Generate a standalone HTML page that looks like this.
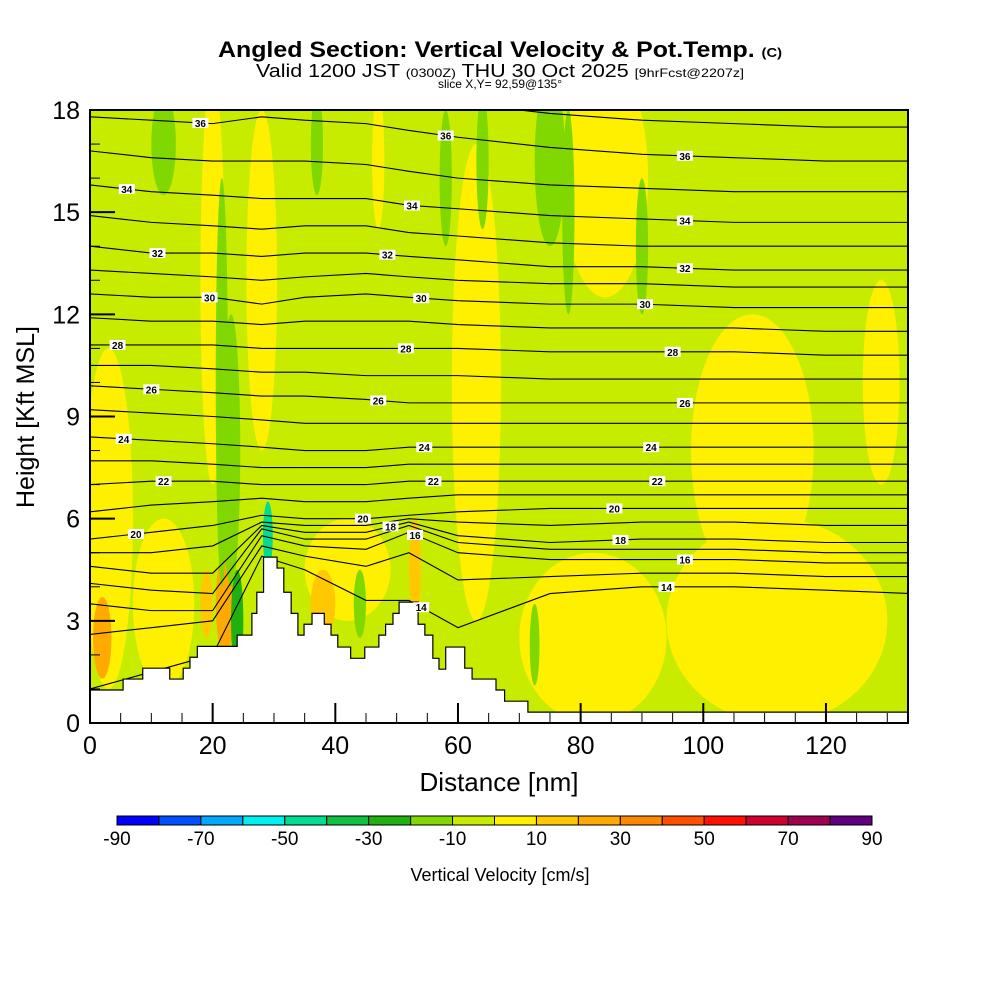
<!DOCTYPE html>
<html><head><meta charset="utf-8"><style>
body{margin:0;background:#fff;}
svg text{font-family:"Liberation Sans",sans-serif;}
</style></head><body>
<svg id="chart" width="1000" height="1000" viewBox="0 0 1000 1000" xmlns="http://www.w3.org/2000/svg">
<defs><clipPath id="plotclip"><rect x="90" y="110" width="818" height="613"/></clipPath></defs>
<text x="218" y="57" font-size="22" font-weight="bold" textLength="564" lengthAdjust="spacingAndGlyphs">Angled Section: Vertical Velocity &amp; Pot.Temp. <tspan font-size="13">(C)</tspan></text>
<text x="256" y="77" font-size="18" textLength="488" lengthAdjust="spacingAndGlyphs">Valid 1200 JST <tspan font-size="12">(0300Z)</tspan> THU 30 Oct 2025 <tspan font-size="12">[9hrFcst@2207z]</tspan></text>
<text x="500" y="88" font-size="12" text-anchor="middle">slice X,Y= 92,59@135°</text>
<g id="plot" clip-path="url(#plotclip)">
<rect x="90" y="110" width="818" height="613" fill="#c8ec00"/>
<g id="blobs"></g><g id="lines"></g><g id="terrain"></g>
</g>
<rect x="90" y="110" width="818" height="613" fill="none" stroke="#000" stroke-width="2"/>
<g id="labels"></g>
<g id="axes"></g>
<text x="499" y="791" font-size="26" text-anchor="middle">Distance [nm]</text>
<text transform="translate(34,417) rotate(-90)" font-size="25" text-anchor="middle">Height [Kft MSL]</text>
<g id="colorbar"></g>
<text x="500" y="881" font-size="18" text-anchor="middle">Vertical Velocity [cm/s]</text>
</svg>
<script>
const xTicks=[0,20,40,60,80,100,120];
const yTicks=[0,3,6,9,12,15,18];
const cbTicks=[-90,-70,-50,-30,-10,10,30,50,70,90];
const cbColors=["#0000ff","#0050ff","#00a8ff","#00f0f0","#00dc90","#10c040","#20b010","#80d800","#c8ec00","#fff000","#ffc800","#ffaa00","#ff8800","#ff5000","#ff1000","#d00030","#a00050","#600080"];
// terrain step edges (nm) and heights (kft)
const terrX=[0,5.4,8.6,13.0,15.2,16.3,17.5,24.0,26.4,27.2,28.3,30.5,31.6,32.8,33.9,34.9,36.2,38.2,39.3,40.4,42.5,44.8,47.1,48.2,49.4,50.4,53.5,54.6,55.9,56.9,58.0,61.1,62.3,66.2,67.6,71.4,134];
const terrH=[0.97,1.29,1.61,1.29,1.61,1.93,2.25,2.58,3.22,3.84,4.87,4.55,3.84,3.22,2.58,2.9,3.22,2.9,2.58,2.23,1.9,2.23,2.58,2.9,3.22,3.55,2.9,2.58,1.9,1.58,2.23,1.61,1.29,0.97,0.64,0.32];
// velocity blobs: centre nm, centre kft, radius nm, radius kft, value cm/s
const blobCx=[3,20,28,63,84,108,112,82,42,129,12,2,22,19,38,53,21.5,75,64,12,72.5,44,24,29,23,37,58,90,78,47];
const blobCy=[6,13,13,10,16,8,3,2.5,4.5,10,3.5,2.5,3.5,3.5,3.5,4.5,10,16.5,16.5,17,2.3,3.5,3,5.5,8,17,16,14,15,16.5];
const blobRx=[4,2,2.5,4,7,10,18,12,7,3,5,1.5,1.5,1,2,1,1,2.5,1,2,0.8,1,1,0.8,1.5,1,1,1,1,1];
const blobRy=[5,6,5,7,3.5,4,3,2.5,1.5,3,2.5,1.2,1.5,1,1,1.5,6,2.5,2,1.5,1.2,1,1.5,1,4,1.5,2,2,3,2];
const blobV=[5,5,5,5,5,5,5,5,5,5,5,25,25,15,15,15,-15,-15,-15,-15,-15,-15,-25,-45,-15,-15,-15,-15,-15,5];
// potential temperature isentropes
const thX=[0,10,20,28,35,45,52,60,75,90,105,120,134];
const thLevels=[14,15,16,17,18,19,20,21,22,23,24,25,26,27,28,29,30,31,32,33,34,35,36,37];
const thH=[
[1.0,1.5,2.0,4.9,4.5,3.6,3.6,2.8,3.8,4.0,4.0,3.9,3.8],
[2.6,2.8,3.0,5.2,4.9,4.6,5.0,4.2,4.3,4.4,4.4,4.3,4.3],
[3.5,3.3,3.3,5.5,5.2,5.1,5.6,5.0,4.8,4.8,4.8,4.7,4.7],
[4.1,3.9,3.8,5.7,5.4,5.4,5.8,5.3,5.1,5.1,5.1,5.0,5.0],
[4.6,4.4,4.4,5.8,5.6,5.6,5.9,5.5,5.3,5.4,5.4,5.3,5.3],
[5.0,5.0,5.2,5.9,5.8,5.8,6.0,5.9,5.8,5.9,5.9,5.8,5.8],
[5.4,5.6,5.8,6.1,6.0,6.0,6.1,6.2,6.3,6.3,6.3,6.3,6.3],
[6.2,6.4,6.5,6.6,6.5,6.5,6.6,6.7,6.7,6.7,6.7,6.7,6.7],
[7.0,7.1,7.1,7.0,7.0,7.0,7.1,7.1,7.1,7.1,7.1,7.1,7.1],
[7.7,7.7,7.6,7.5,7.5,7.5,7.6,7.6,7.6,7.6,7.6,7.6,7.6],
[8.4,8.3,8.2,8.1,8.0,8.0,8.1,8.1,8.1,8.1,8.1,8.1,8.1],
[9.2,9.1,9.0,8.9,8.8,8.8,8.8,8.8,8.8,8.8,8.8,8.8,8.8],
[9.9,9.8,9.7,9.6,9.6,9.5,9.4,9.4,9.4,9.4,9.4,9.4,9.4],
[10.5,10.5,10.4,10.3,10.3,10.2,10.2,10.2,10.1,10.1,10.1,10.1,10.1],
[11.1,11.1,11.1,11.0,11.0,11.0,11.0,11.0,10.9,10.9,10.9,10.8,10.8],
[11.9,11.8,11.8,11.7,11.8,11.8,11.8,11.7,11.6,11.6,11.6,11.5,11.5],
[12.6,12.5,12.5,12.3,12.5,12.6,12.5,12.4,12.3,12.3,12.2,12.2,12.2],
[13.3,13.2,13.1,13.0,13.1,13.2,13.1,13.0,12.9,12.9,12.8,12.8,12.8],
[14.0,13.8,13.8,13.7,13.8,13.8,13.7,13.6,13.4,13.4,13.3,13.3,13.3],
[14.9,14.7,14.6,14.5,14.6,14.6,14.4,14.3,14.1,14.0,14.0,14.0,14.0],
[15.8,15.6,15.5,15.4,15.4,15.4,15.2,15.1,14.9,14.8,14.7,14.7,14.7],
[16.8,16.6,16.5,16.5,16.5,16.4,16.2,16.0,15.8,15.7,15.6,15.6,15.6],
[17.8,17.7,17.6,17.8,17.7,17.6,17.4,17.2,16.9,16.7,16.6,16.5,16.5],
[18.6,18.5,18.4,18.5,18.5,18.4,18.3,18.2,17.9,17.7,17.6,17.5,17.5]];
const lblLevel=[36,34,32,30,28,26,24,22,20,36,34,32,30,28,26,24,22,20,18,16,14,36,34,32,30,28,26,24,22,20,18,16,14];
const lblX=[18,6,11,19.5,4.5,10,5.5,12,7.5,58,52.5,48.5,54,51.5,47,54.5,56,44.5,49,53,54,97,97,97,90.5,95,97,91.5,92.5,85.5,86.5,97,94];

const NS="http://www.w3.org/2000/svg";
const X0=90,X1=908,XMAX=(908-90)/6.133,Y0=723,Y1=110,YMAX=18;
const xs=d=>X0+d*(X1-X0)/XMAX, ys=h=>Y0-h*(Y0-Y1)/YMAX;
function mk(tag,attrs,parent){const e=document.createElementNS(NS,tag);for(const k in attrs)e.setAttribute(k,attrs[k]);parent.appendChild(e);return e;}
function colorFor(v){let i=Math.floor((v+90)/10);i=Math.max(0,Math.min(17,i));return cbColors[i];}
function interp(arrX,arrY,x){for(let i=0;i<arrX.length-1;i++){if(x>=arrX[i]&&x<=arrX[i+1]){const t=(x-arrX[i])/(arrX[i+1]-arrX[i]);return arrY[i]+t*(arrY[i+1]-arrY[i]);}}return arrY[arrY.length-1];}

const gB=document.getElementById('blobs');
for(let i=0;i<blobV.length;i++){
  const e=mk('ellipse',{cx:xs(blobCx[i]),cy:ys(blobCy[i]),rx:blobRx[i]*6.133,ry:blobRy[i]*34.06,fill:colorFor(blobV[i])},gB);
  
  
}
const gL=document.getElementById('lines');
for(let l=0;l<thLevels.length;l++){
  const pts=thX.map((x,i)=>xs(x)+','+ys(thH[l][i])).join(' ');
  const e=mk('polyline',{points:pts,fill:'none',stroke:'#000','stroke-width':1.1},gL);
  
  
}
const gT=document.getElementById('terrain');
let tp=[xs(0)+','+ys(0)];
for(let i=0;i<terrH.length;i++){tp.push(xs(terrX[i])+','+ys(terrH[i]));tp.push(xs(terrX[i+1])+','+ys(terrH[i]));}
tp.push(xs(terrX[terrX.length-1])+','+ys(0));
const terr=mk('polygon',{points:tp.join(' '),fill:'#fff',stroke:'#000','stroke-width':1.2},gT);



const gLb=document.getElementById('labels');
for(let i=0;i<lblLevel.length;i++){
  const li=thLevels.indexOf(lblLevel[i]);
  const y=ys(interp(thX,thH[li],lblX[i])),x=xs(lblX[i]);
  const g=mk('g',{},gLb);
  
  
  mk('rect',{x:x-8,y:y-5,width:16,height:10,fill:'#fff'},g);
  const t=mk('text',{x:x,y:y+4,'font-size':10,'font-weight':'bold','text-anchor':'middle'},g);t.textContent=lblLevel[i];
}
const gA=document.getElementById('axes');
for(let d=0;d<=130;d+=5){const big=d%20===0;mk('line',{x1:xs(d),x2:xs(d),y1:723,y2:723-(big?20:10),stroke:'#000','stroke-width':big?2:1},gA);}
for(let h=0;h<=18;h+=1){const big=h%3===0;mk('line',{x1:90,x2:90+(big?25:10),y1:ys(h),y2:ys(h),stroke:'#000','stroke-width':big?2:1},gA);}
xTicks.forEach(v=>{const t=mk('text',{x:xs(v),y:754,'font-size':25,'text-anchor':'middle'},gA);t.textContent=v;
  
  });
yTicks.forEach(v=>{const t=mk('text',{x:80,y:ys(v)+9,'font-size':25,'text-anchor':'end'},gA);t.textContent=v;
  
  });
const gC=document.getElementById('colorbar');
const cbX0=117,cbX1=872,cbW=(cbX1-cbX0)/cbColors.length;
cbColors.forEach((c,i)=>{const r=mk('rect',{x:cbX0+i*cbW,y:816,width:cbW,height:9,fill:c,stroke:'#000','stroke-width':1},gC);
  
  });
cbTicks.forEach(v=>{const t=mk('text',{x:cbX0+(v+90)/180*(cbX1-cbX0),y:845,'font-size':19,'text-anchor':'middle'},gC);t.textContent=v;
  
  });
</script>
</body></html>
